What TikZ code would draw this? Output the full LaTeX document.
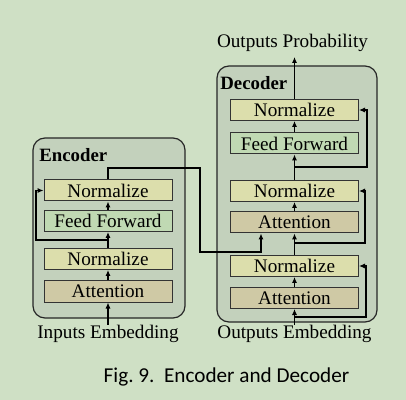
\documentclass[tikz,border=0pt]{standalone}
\usepackage{fontspec}
\setmainfont{Liberation Serif}
\newfontfamily\capfont{Carlito}
\usetikzlibrary{arrows.meta,positioning}
\definecolor{bgcol}{HTML}{CFE0C5}
\definecolor{boxcol}{HTML}{C3D1BC}
\definecolor{normcol}{HTML}{DCDEAC}
\definecolor{ffcol}{HTML}{C0D9B3}
\definecolor{attcol}{HTML}{CFC9A5}
\tikzset{
blk/.style={
  draw=black!80,
  line width=0.5pt,
  minimum width=64pt,
  minimum height=10.5pt,
  inner sep=0pt,
  font=\fontsize{9.6}{11}\selectfont
  },
normblk/.style={blk,fill=normcol},
ffblk/.style={blk,fill=ffcol},
attblk/.style={blk,fill=attcol},
container/.style={draw=black!85,line width=0.6pt,fill=boxcol,rounded corners=6pt},
lbl/.style={font=\fontsize{9.6}{11}\selectfont,inner sep=0pt},
flow/.style={line width=0.65pt,-{Latex[length=3pt,width=2.6pt]}}
}

\begin{document}
\begin{tikzpicture}[x=0.5pt,y=-0.5pt]
\useasboundingbox[fill=bgcol] (0,0) rectangle (406,400);

% containers
\draw[container] (33,138) rectangle (185,318);
\draw[container] (217,66) rectangle (377,322);
\node[anchor=west,font=\fontsize{9.4}{11}\selectfont\bfseries,inner sep=0pt] (enclbl) at (39,155) {Encoder};
\node[anchor=west,font=\fontsize{9.4}{11}\selectfont\bfseries,inner sep=0pt] (declbl) at (220,83) {Decoder};

% encoder
\node[attblk] (eatt) at (108,291.5) {Attention};
\node[normblk] (enorm1) at (108,259) {Normalize};
\node[ffblk] (eff) at (108,221) {Feed Forward};
\node[normblk] (enorm2) at (108,190.5) {Normalize};

% decoder
\node[attblk] (datt1) at (294.5,298) {Attention};
\node[normblk] (dnorm1) at (294.5,266) {Normalize};
\node[attblk] (datt2) at (294.5,222.5) {Attention};
\node[normblk] (dnorm2) at (294.5,191) {Normalize};
\node[ffblk] (dff) at (294.5,143.5) {Feed Forward};
\node[normblk] (dnorm3) at (294.5,110) {Normalize};

% texts
\node[lbl] (inp) at (108,334) {Inputs Embedding};
\node[lbl] (outp) at (294.5,334) {Outputs Embedding};
\node[lbl] (prob) at (292.5,43) {Outputs Probability};
\node[font=\fontsize{10.6}{12}\capfont,inner sep=0pt] (cap) at (226.5,377) {Fig.~9.\ \ Encoder and Decoder};

% encoder flow
\coordinate (er1) at (108,240);
\coordinate (er2) at (36,240);
\coordinate (eo1) at (108,168);
\coordinate (eo2) at (200,168);
\coordinate (eo3) at (200,252);
\coordinate (eo4) at (261,252);

\draw[flow] (inp.north) -- (eatt.south);
\draw[flow] (eatt) -- (enorm1);
\draw[flow] (enorm1) -- (eff);
\draw[flow] (er1) -- (er2) |- (enorm2.west);
\draw[flow] (eff) -- (enorm2);
\draw[flow] (enorm2.north) -- (eo1) -- (eo2) -- (eo3) -- (eo4) -- (eo4 |- datt2.south);

% decoder flow
\coordinate (dr1) at (294.5,317);
\coordinate (dr2) at (366,317);
\coordinate (dr3) at (294.5,243);
\coordinate (dr4) at (365,243);
\coordinate (dr5) at (294.5,167);
\coordinate (dr6) at (367,167);
\coordinate (dtop) at (294.5,57);

\draw[flow] (outp.north) -- (datt1.south);
\draw[flow] (dr1) -- (dr2) |- (dnorm1.east);
\draw[flow] (datt1) -- (dnorm1);
\draw[flow] (dnorm1) -- (datt2);
\draw[flow] (dr3) -- (dr4) |- (dnorm2.east);
\draw[flow] (datt2) -- (dnorm2);
\draw[flow] (dnorm2) -- (dff);
\draw[flow] (dr5) -- (dr6) |- (dnorm3.east);
\draw[flow] (dff) -- (dnorm3);
\draw[flow] (dnorm3.north) -- (dtop);
\end{tikzpicture}
\end{document}
